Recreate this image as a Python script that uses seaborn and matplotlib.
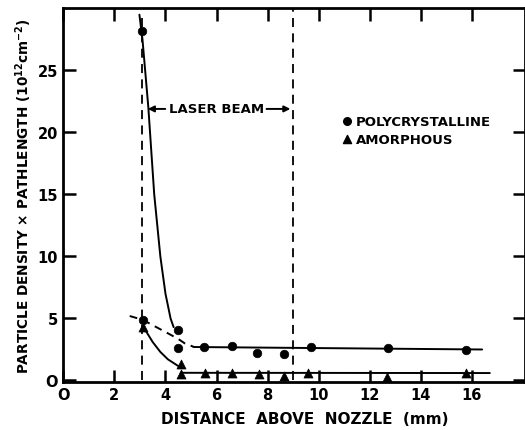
import matplotlib
matplotlib.use("Agg")
import matplotlib.pyplot as plt
import seaborn as sns
import pandas as pd

# ---- data ----
poly_x = [3.07, 3.12, 4.51, 4.51, 5.49, 6.6, 7.58, 8.63, 9.7, 12.72, 15.75]
poly_y = [28.2, 4.9, 4.1, 2.6, 2.7, 2.8, 2.25, 2.1, 2.7, 2.6, 2.45]
amor_x = [3.12, 4.6, 4.6, 5.56, 6.6, 7.65, 8.63, 9.57, 12.68, 15.75]
amor_y = [4.3, 1.3, 0.5, 0.64, 0.64, 0.53, 0.37, 0.64, 0.32, 0.58]

# hand-drawn guide curves
poly_steep_x = [2.98, 3.1, 3.33, 3.56, 3.8, 4.0, 4.2, 4.32]
poly_steep_y = [29.5, 27.5, 22.0, 15.0, 10.0, 7.0, 5.0, 4.3]
poly_dash_x = [2.6, 3.1, 3.6, 4.1, 4.5, 4.75, 5.1]
poly_dash_y = [5.2, 4.9, 4.35, 3.8, 3.35, 3.0, 2.72]
poly_flat_x = [5.1, 16.4]
poly_flat_y = [2.7, 2.5]
amor_curve_x = [3.14, 3.5, 3.8, 4.1, 4.55]
amor_curve_y = [4.3, 3.1, 2.3, 1.7, 1.1]
amor_flat_x = [4.6, 16.7]
amor_flat_y = [0.62, 0.6]

beam_edges = [3.1, 9.0]
beam_tops = [29.3, 30.0]
beam_y = 21.9

xticks = [0, 2, 4, 6, 8, 10, 12, 14, 16]
xtick_labels = ["O", "2", "4", "6", "8", "10", "12", "14", "16"]
yticks = [0, 5, 10, 15, 20, 25]
ytick_labels = ["O", "5", "10", "15", "20", "25"]

sns.set_style("ticks")
plt.rcParams["font.family"] = ["DejaVu Sans"]
plt.rcParams["font.weight"] = "bold"
plt.rcParams["mathtext.default"] = "bf"
for k in ["text.color", "axes.labelcolor", "xtick.color", "ytick.color", "axes.edgecolor"]:
    plt.rcParams[k] = "black"

fig = plt.figure(figsize=(5.25, 4.31), dpi=100)
ax = fig.add_axes([0.1206, 0.112, 0.879, 0.866])

lw = 1.4
sns.lineplot(x=poly_steep_x, y=poly_steep_y, sort=False, estimator=None, color="black", lw=lw, ax=ax)
sns.lineplot(x=poly_dash_x, y=poly_dash_y, sort=False, estimator=None, color="black", lw=lw,
             linestyle=(0, (4, 3)), ax=ax)
sns.lineplot(x=poly_flat_x, y=poly_flat_y, sort=False, estimator=None, color="black", lw=lw, ax=ax)
sns.lineplot(x=amor_curve_x, y=amor_curve_y, sort=False, estimator=None, color="black", lw=lw, ax=ax)
sns.lineplot(x=amor_flat_x, y=amor_flat_y, sort=False, estimator=None, color="black", lw=lw, ax=ax)

sns.scatterplot(x=poly_x, y=poly_y, marker="o", s=38, color="black", edgecolor="black", ax=ax, zorder=5)
sns.scatterplot(x=amor_x, y=amor_y, marker="^", s=42, color="black", edgecolor="black", ax=ax, zorder=5)

ax.vlines(beam_edges, 0, beam_tops, colors="black", linestyles=(0, (5, 3.5)), lw=1.3)

# laser beam arrows
ax.annotate("", xy=(beam_edges[0] + 0.1, beam_y), xytext=(4.1, beam_y),
            arrowprops=dict(arrowstyle="-|>", color="black", lw=1.4, mutation_scale=9))
ax.annotate("", xy=(beam_edges[1], beam_y), xytext=(7.85, beam_y),
            arrowprops=dict(arrowstyle="-|>", color="black", lw=1.4, mutation_scale=9))
ax.text(6.0, beam_y, "LASER BEAM", ha="center", va="center", fontsize=9.5, fontweight="bold")

# legend-like key
ax.scatter([11.1], [20.9], marker="o", s=30, color="black")
ax.scatter([11.1], [19.5], marker="^", s=34, color="black")
ax.text(11.45, 20.9, "POLYCRYSTALLINE", ha="left", va="center", fontsize=9.5, fontweight="bold")
ax.text(11.45, 19.45, "AMORPHOUS", ha="left", va="center", fontsize=9.5, fontweight="bold")

ax.set_xlim(0, 18.07)
ax.set_ylim(-0.1, 30.0)
ax.set_xticks(xticks)
ax.set_xticklabels(xtick_labels, fontsize=10.5, fontweight="bold")
ax.set_yticks(yticks)
ax.set_yticklabels(ytick_labels, fontsize=10.5, fontweight="bold")
ax.tick_params(direction="in", length=9, width=1.8, top=True, right=True, pad=4)

for sp in ax.spines.values():
    sp.set_visible(True)
    sp.set_linewidth(2.0)

ax.set_xlabel("DISTANCE  ABOVE  NOZZLE  (mm)", fontsize=11, fontweight="bold", labelpad=3)
ax.xaxis.set_label_coords(0.523, -0.078)
ax.set_ylabel("PARTICLE DENSITY \u00d7 PATHLENGTH (10$^{12}$cm$^{-2}$)", fontsize=9.8,
              fontweight="bold", labelpad=2)

fig.savefig("out.png", dpi=100)
